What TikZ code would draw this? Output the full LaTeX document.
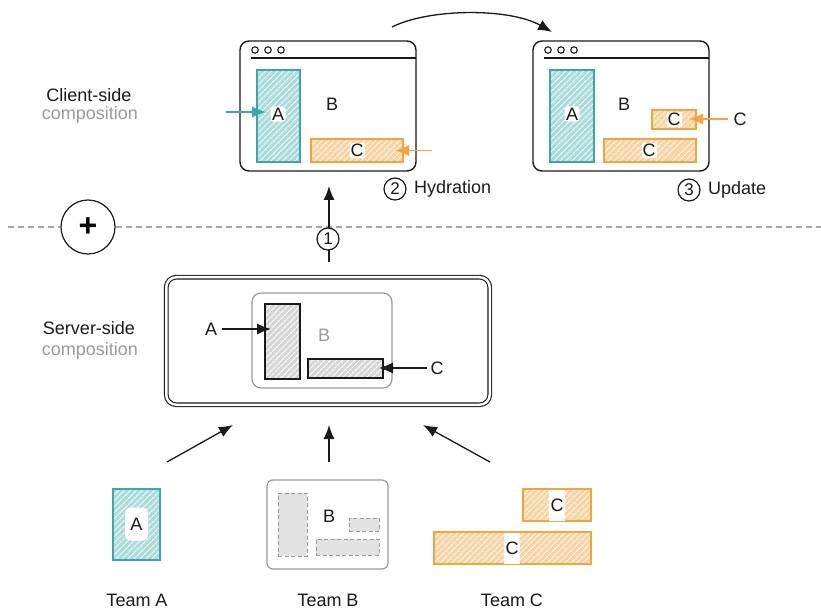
\documentclass[tikz,border=0pt]{standalone}
\usepackage{fontspec}
\setmainfont{Liberation Sans}
\usetikzlibrary{arrows.meta,patterns.meta}
\definecolor{tealc}{HTML}{3AA8A8}
\definecolor{tealf}{HTML}{AADCDC}
\definecolor{orc}{HTML}{F4A43A}
\definecolor{orf}{HTML}{F9D4A2}
\definecolor{grayf}{HTML}{D6D6D6}
\definecolor{ink}{HTML}{1A1A1A}
\definecolor{soft}{HTML}{9A9A9A}
\definecolor{dashc}{HTML}{A8A8A8}
\tikzset{
  hatch/.style={pattern={Lines[angle=45,distance=4pt,line width=1.2pt]}, pattern color=white},
  tealbox/.style={draw=tealc, line width=1.3pt, preaction={fill=tealf}, hatch, inner sep=0pt},
  orbox/.style={draw=orc, line width=1.3pt, preaction={fill=orf}, hatch, inner sep=0pt},
  graybox/.style={draw=ink, line width=1.2pt, preaction={fill=grayf}, hatch, inner sep=0pt},
  dashbox/.style={draw=soft, dashed, dash pattern=on 4pt off 2.5pt, line width=1pt, fill=grayf!70, inner sep=0pt},
  lbl/.style={fill=white, text=ink, inner sep=1.5pt, rounded corners=3pt},
  txt/.style={text=ink, inner sep=0pt},
  softtxt/.style={text=soft, inner sep=0pt},
  browser/.style={draw=ink, line width=1.4pt, rounded corners=9pt, minimum width=176pt, minimum height=130pt, inner sep=0pt},
  winline/.style={draw=ink, line width=1.4pt},
  wdot/.style={circle, draw=ink, line width=1.1pt, minimum size=6.5pt, inner sep=0pt},
  numc/.style={circle, draw=ink, line width=1.2pt, fill=white, minimum size=22pt, inner sep=0pt, text=ink, font=\fontsize{17}{18}\selectfont},
  arr/.style={draw=ink, line width=1.3pt, -{Latex[length=14pt,width=11pt]}},
  tarr/.style={draw=tealc, line width=1.3pt, -{Latex[length=14pt,width=11pt]}},
  oarr/.style={draw=orc, line width=1.3pt, -{Latex[length=14pt,width=11pt]}},
}
\begin{document}
\begin{tikzpicture}[x=1pt,y=-1pt,font=\fontsize{18}{21}\selectfont]
\useasboundingbox (0,0) rectangle (821,609);

% ---------- side labels ----------
\node[txt] (cs1) at (89,95) {Client-side};
\node[softtxt] (cs2) at (90,115) {composition};
\node[txt] (ss1) at (89,328) {Server-side};
\node[softtxt] (ss2) at (90,351) {composition};

% ---------- separator ----------
\node[circle, draw=ink, line width=1.2pt, minimum size=54pt, inner sep=0pt, font=\fontsize{32}{32}\selectfont\bfseries] (plus) at (88,227) {+};
\coordinate (sepL) at (8,227);
\coordinate (sepR) at (821,227);
\draw[dashc, line width=1.1pt, dash pattern=on 6pt off 4pt] (sepL) -- (plus.west);
\draw[dashc, line width=1.1pt, dash pattern=on 6pt off 4pt] (plus.east) -- (sepR);

% ---------- browser 1 ----------
\node[browser] (b1) at (328,106) {};
\coordinate (b1l) at (251,58);
\coordinate (b1r) at (416,58);
\draw[winline] (b1l) -- (b1r);
\node[wdot] (b1d1) at (255,50) {};
\node[wdot] (b1d2) at (268,50) {};
\node[wdot] (b1d3) at (281,50) {};
\node[tealbox, minimum width=43pt, minimum height=92pt] (b1a) at (278.5,116) {};
\node[lbl] (b1al) at (278,114) {A};
\node[txt] (b1b) at (332,104) {B};
\node[orbox, minimum width=92pt, minimum height=23pt] (b1c) at (357,150.5) {};
\node[lbl, rounded corners=0pt, inner sep=1pt] (b1cl) at (357,150.5) {C};
\coordinate (b1ta) at (226,112);
\coordinate (b1te) at (266,112);
\draw[tarr] (b1ta) -- (b1te);
\coordinate (b1oa) at (432,150.5);
\coordinate (b1oe) at (395,150.5);
\draw[oarr] (b1oa) -- (b1oe);
\node[numc] (n2) at (395,189) {2};
\node[txt, anchor=west] (hyd) at (414,189) {Hydration};

% ---------- browser 2 ----------
\node[browser] (b2) at (621,106) {};
\coordinate (b2l) at (544,58);
\coordinate (b2r) at (709,58);
\draw[winline] (b2l) -- (b2r);
\node[wdot] (b2d1) at (548,50) {};
\node[wdot] (b2d2) at (561,50) {};
\node[wdot] (b2d3) at (574,50) {};
\node[tealbox, minimum width=44pt, minimum height=92pt] (b2a) at (572,116) {};
\node[lbl] (b2al) at (572,114) {A};
\node[txt] (b2b) at (624,104) {B};
\node[orbox, minimum width=44pt, minimum height=19pt] (b2cs) at (674,119.5) {};
\node[lbl, rounded corners=0pt, inner sep=1pt] (b2csl) at (674,119.5) {C};
\node[orbox, minimum width=92pt, minimum height=23pt] (b2cb) at (650,150.5) {};
\node[lbl, rounded corners=0pt, inner sep=1pt] (b2cbl) at (649,150.5) {C};
\node[txt] (b2ct) at (740,119) {C};
\coordinate (b2oa) at (728,119);
\coordinate (b2oe) at (689,119);
\draw[oarr] (b2oa) -- (b2oe);
\node[numc] (n3) at (689,190) {3};
\node[txt, anchor=west] (upd) at (708,190) {Update};

% curved arrow
\coordinate (ca) at (392,27);
\coordinate (ce) at (552,32);
\draw[arr] (ca) .. controls (430,8) and (510,8) .. (ce);

% ---------- server ----------
\node[draw=ink, double, double distance=2.5pt, line width=1.1pt, rounded corners=10pt, minimum width=323.5pt, minimum height=127.5pt, inner sep=0pt] (srv) at (328,341) {};
\node[draw=soft, line width=1.2pt, rounded corners=9pt, minimum width=140pt, minimum height=95pt, inner sep=0pt] (srvb) at (322,340.5) {};
\node[graybox, minimum width=35pt, minimum height=75pt] (sa) at (282.5,341.5) {};
\node[softtxt] (sb) at (324,335) {B};
\node[graybox, minimum width=75pt, minimum height=19pt] (sc) at (345.5,368.5) {};
\node[txt] (sal) at (211,329) {A};
\coordinate (saa) at (222,329);
\coordinate (sae) at (271,329);
\draw[arr] (saa) -- (sae);
\node[txt] (scl) at (437,368) {C};
\coordinate (sca) at (427,368);
\coordinate (sce) at (379,368);
\draw[arr] (sca) -- (sce);

% arrow 1
\coordinate (u1a) at (329,262);
\coordinate (u1e) at (329,186);
\draw[arr] (u1a) -- (u1e);
\node[numc] (n1) at (328,239) {1};

% ---------- teams ----------
\node[tealbox, minimum width=47pt, minimum height=71pt] (ta) at (136.5,524.5) {};
\node[lbl, minimum width=23pt, minimum height=33pt, rounded corners=5pt] (tal) at (136.5,524) {A};

\node[draw=soft, line width=1.2pt, rounded corners=6pt, minimum width=121pt, minimum height=89pt, inner sep=0pt] (tb) at (327.5,524.5) {};
\node[dashbox, minimum width=29pt, minimum height=63pt] (tb1) at (292.5,524.5) {};
\node[dashbox, minimum width=63pt, minimum height=16pt] (tb2) at (347.5,547) {};
\node[dashbox, minimum width=30pt, minimum height=13pt] (tb3) at (364,524.5) {};
\node[txt] (tbl) at (329,516) {B};

\node[orbox, minimum width=68pt, minimum height=32pt] (tcs) at (557,505) {};
\node[lbl, rounded corners=0pt, minimum height=31pt, inner sep=1.5pt] (tcsl) at (557,505) {C};
\node[orbox, minimum width=157pt, minimum height=32pt] (tcb) at (512.5,548) {};
\node[lbl, rounded corners=0pt, minimum height=31pt, inner sep=1.5pt] (tcbl) at (512,548) {C};

\node[txt] (tA) at (137,600) {Team A};
\node[txt] (tB) at (328,600) {Team B};
\node[txt] (tC) at (512,600) {Team C};

% arrows teams -> server
\coordinate (aa) at (167,462);
\coordinate (ae) at (233,425);
\draw[arr] (aa) -- (ae);
\coordinate (ba) at (329,462);
\coordinate (be) at (329,425);
\draw[arr] (ba) -- (be);
\coordinate (cca) at (490,462);
\coordinate (cce) at (423,425);
\draw[arr] (cca) -- (cce);
\end{tikzpicture}
\end{document}
